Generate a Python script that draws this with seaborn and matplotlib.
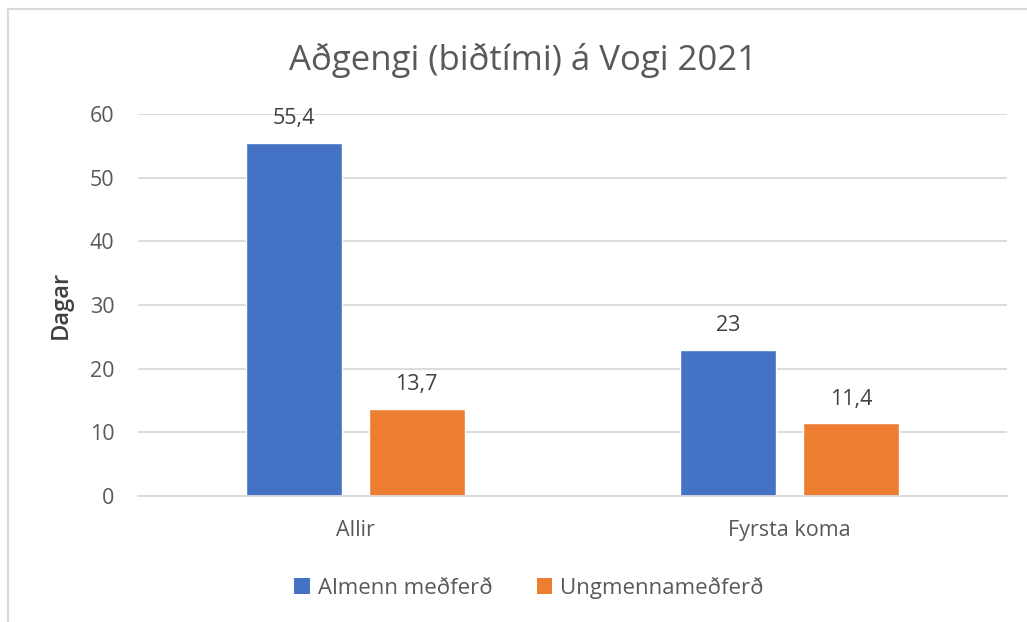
import matplotlib
matplotlib.use("Agg")
import matplotlib.pyplot as plt
import seaborn as sns
import pandas as pd
from matplotlib.patches import Rectangle, Patch

categories = ["Allir", "Fyrsta koma"]
series_names = ["Almenn meðferð", "Ungmennameðferð"]
almenn = [55.4, 23]
ungmenna = [13.7, 11.4]
yticks = [0, 10, 20, 30, 40, 50, 60]
title = "Aðgengi (biðtími) á Vogi 2021"
ylabel = "Dagar"
colors = ["#4472C4", "#ED7D31"]

df = pd.DataFrame({
    "cat": categories * 2,
    "series": [series_names[0]] * len(categories) + [series_names[1]] * len(categories),
    "val": almenn + ungmenna,
})

sns.set_theme(style="white")
plt.rcParams["font.family"] = ["Open Sans", "DejaVu Sans"]
txt = "#595959"

fig = plt.figure(figsize=(10.27, 6.22), dpi=100)
ax = fig.add_axes([138 / 1027, 1 - 496 / 622, (1007 - 138) / 1027, (496 - 114) / 622])

sns.barplot(data=df, x="cat", y="val", hue="series", palette=colors, ax=ax,
            width=0.566, gap=0.22, saturation=1, legend=False)

ax.set_xlim(-0.5, 1.5)
ax.set_ylim(0, 60)
ax.set_yticks(yticks)
ax.yaxis.grid(True, color="#D9D9D9", lw=1.3)
ax.set_axisbelow(True)
for s in ["top", "right", "left"]:
    ax.spines[s].set_visible(False)
ax.spines["bottom"].set_color("#D9D9D9")
ax.spines["bottom"].set_linewidth(1.3)
ax.tick_params(axis="both", length=0, labelsize=15.5, labelcolor=txt)
ax.tick_params(axis="x", pad=17)
ax.tick_params(axis="y", pad=17)
ax.set_xlabel("")
ax.set_ylabel(ylabel, fontsize=17, color="#404040", fontweight="semibold", labelpad=12)

for cont in ax.containers:
    labels = [f"{v:g}".replace(".", ",") for v in cont.datavalues]
    ax.bar_label(cont, labels=labels, padding=10, fontsize=15.5, color="#404040")

fig.text(0.509, 0.903, title, ha="center", va="center", fontsize=25, color=txt)

handles = [Patch(facecolor=c, edgecolor="none") for c in colors]
fig.legend(handles, series_names, loc="center", bbox_to_anchor=(0.515, 0.055), ncol=2,
           frameon=False, fontsize=16, labelcolor=txt, handlelength=0.7, handleheight=0.7,
           handletextpad=0.35, columnspacing=2.0)

fig.add_artist(Rectangle((7.5 / 1027, -0.1), 1.2, 1.1 - 8.5 / 622, transform=fig.transFigure,
                         fill=False, edgecolor="#D9D9D9", lw=1.5))

fig.savefig("out.png", dpi=100)
